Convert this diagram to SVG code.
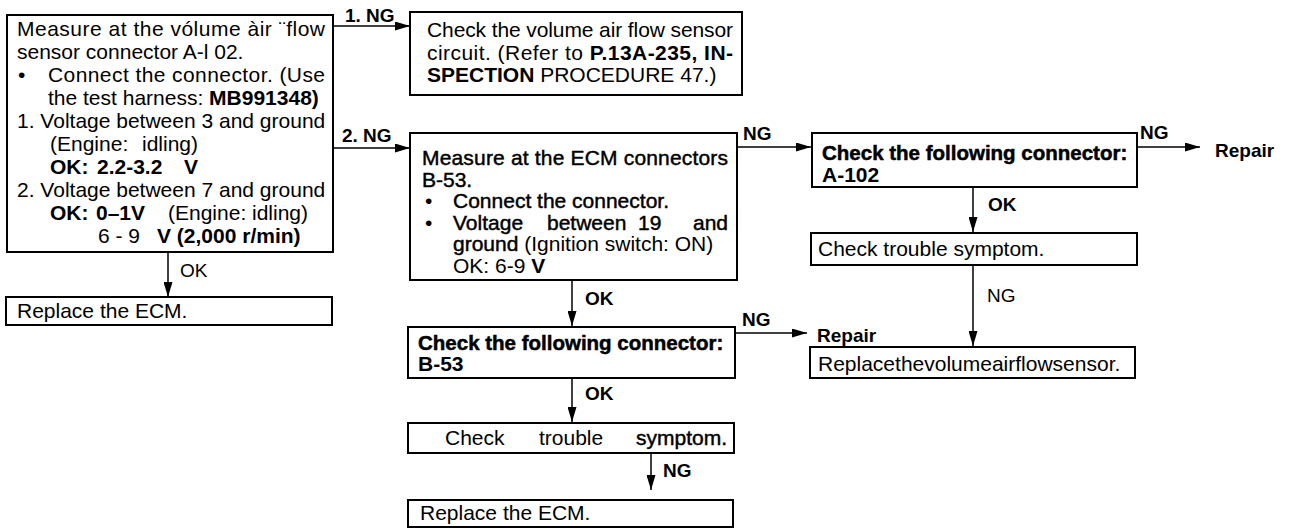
<svg xmlns="http://www.w3.org/2000/svg" width="1290" height="529" viewBox="0 0 1290 529">
<defs>
<marker id="ah" markerUnits="userSpaceOnUse" markerWidth="15" markerHeight="9" refX="15" refY="4.5" orient="auto"><path d="M0,0 L15,4.5 L0,9 z" fill="#000"/></marker>
</defs>
<style>
text{font-family:"Liberation Sans",Arial,sans-serif;font-size:21px;fill:#000}
.b{font-weight:bold}
.s{stroke:#000;stroke-width:0.45px}
.lbl{font-size:19px}
.hb{font-weight:bold;font-size:20.5px;stroke:#000;stroke-width:0.5px}
.box{fill:#fff;stroke:#000;stroke-width:2}
.ln{fill:none;stroke:#000;stroke-width:1.5}
</style>
<rect width="1290" height="529" fill="#fff"/>

<g id="connectors">
<line class="ln" x1="168" y1="252" x2="168" y2="297" marker-end="url(#ah)"/>
<text class="lbl" x="180" y="277">OK</text>
<line class="ln" x1="333" y1="26" x2="410" y2="26" marker-end="url(#ah)"/>
<text class="lbl b" x="345" y="22">1. NG</text>
<line class="ln" x1="333" y1="148" x2="410" y2="148" marker-end="url(#ah)"/>
<text class="lbl b" x="342" y="142">2. NG</text>
<line class="ln" x1="737" y1="147" x2="811" y2="147" marker-end="url(#ah)"/>
<text class="lbl b" x="743" y="140">NG</text>
<line class="ln" x1="1137" y1="147" x2="1200" y2="147" marker-end="url(#ah)"/>
<text class="lbl b" x="1140" y="139">NG</text>
<text class="lbl b" x="1215" y="157">Repair</text>
<line class="ln" x1="572" y1="280" x2="572" y2="326" marker-end="url(#ah)"/>
<text class="lbl b" x="585" y="305">OK</text>
<line class="ln" x1="735" y1="333" x2="807" y2="333" marker-end="url(#ah)"/>
<text class="lbl b" x="742" y="326">NG</text>
<text class="lbl b" x="817" y="342">Repair</text>
<line class="ln" x1="572" y1="378" x2="572" y2="422" marker-end="url(#ah)"/>
<text class="lbl b" x="585" y="400">OK</text>
<line class="ln" x1="651" y1="453" x2="651" y2="490" marker-end="url(#ah)"/>
<text class="lbl b" x="663" y="477">NG</text>
<line class="ln" x1="973" y1="187" x2="973" y2="232" marker-end="url(#ah)"/>
<text class="lbl b" x="988" y="211">OK</text>
<line class="ln" x1="973" y1="265" x2="973" y2="346" marker-end="url(#ah)"/>
<text class="lbl" x="987" y="302">NG</text>
</g>

<g id="n1">
<rect class="box" x="7" y="15" width="326" height="237"/>
<text x="17" y="36" textLength="308" lengthAdjust="spacing">Measure at the vólume àir ¨flow</text>
<text x="17" y="59">sensor connector A-l 02.</text>
<text x="18" y="82">•</text>
<text x="48" y="82" textLength="277" lengthAdjust="spacing">Connect the connector. (Use</text>
<text x="48" y="105">the test harness: <tspan class="b">MB991348)</tspan></text>
<text x="17" y="128">1. Voltage between 3 and ground</text>
<text x="50" y="151">(Engine:<tspan x="142">idling)</tspan></text>
<text class="b" x="50" y="174">OK:<tspan x="97">2.2-3.2</tspan><tspan x="184">V</tspan></text>
<text x="17" y="197">2. Voltage between 7 and ground</text>
<text x="50" y="220"><tspan class="b">OK:</tspan><tspan class="b" x="96">0–1V</tspan><tspan x="168">(Engine:</tspan><tspan x="252">idling)</tspan></text>
<text x="98" y="243">6 - 9<tspan class="b" x="157">V (2,000 r/min)</tspan></text>
</g>

<g id="n2">
<rect class="box" x="6" y="297" width="326" height="28"/>
<text x="17" y="318">Replace the ECM.</text>
</g>

<g id="n3">
<rect class="box" x="410" y="12" width="332" height="83"/>
<text x="427" y="37" textLength="306" lengthAdjust="spacing">Check the volume air flow sensor</text>
<text x="427" y="60" textLength="306" lengthAdjust="spacing">circuit. (Refer to <tspan class="b">P.13A-235, IN-</tspan></text>
<text x="427" y="82"><tspan class="b">SPECTION</tspan> PROCEDURE 47.)</text>
</g>

<g id="n4">
<rect class="box" x="410" y="133" width="327" height="147"/>
<text class="s" x="422" y="165" textLength="306" lengthAdjust="spacing">Measure at the ECM connectors</text>
<text class="s" x="422" y="187">B-53.</text>
<text x="425" y="208">•</text>
<text class="s" x="453" y="208">Connect the connector.</text>
<text x="425" y="230">•</text>
<text class="s" x="453" y="230">Voltage<tspan x="547">between</tspan><tspan x="638">19</tspan><tspan x="693">and</tspan></text>
<text x="453" y="251"><tspan class="s">ground</tspan> (Ignition switch: ON)</text>
<text x="453" y="273">OK: 6-9 <tspan class="b">V</tspan></text>
</g>

<g id="n5">
<rect class="box" x="408" y="327" width="327" height="51"/>
<text class="hb" x="418" y="350">Check the following connector:</text>
<text class="b" x="418" y="371">B-53</text>
</g>

<g id="n6">
<rect class="box" x="408" y="423" width="326" height="30"/>
<text x="445" y="445">Check<tspan x="539">trouble</tspan><tspan class="s" x="636">symptom.</tspan></text>
</g>

<g id="n7">
<rect class="box" x="408" y="500" width="325" height="27"/>
<text x="420" y="520">Replace the ECM.</text>
</g>

<g id="n8">
<rect class="box" x="812" y="133" width="325" height="54"/>
<text class="hb" x="822" y="160">Check the following connector:</text>
<text class="b" x="822" y="182">A-102</text>
</g>

<g id="n9">
<rect class="box" x="811" y="233" width="326" height="32"/>
<text x="818" y="256">Check trouble symptom.</text>
</g>

<g id="n10">
<rect class="box" x="810" y="347" width="325" height="31"/>
<text x="818" y="371">Replacethevolumeairflowsensor.</text>
</g>
</svg>
